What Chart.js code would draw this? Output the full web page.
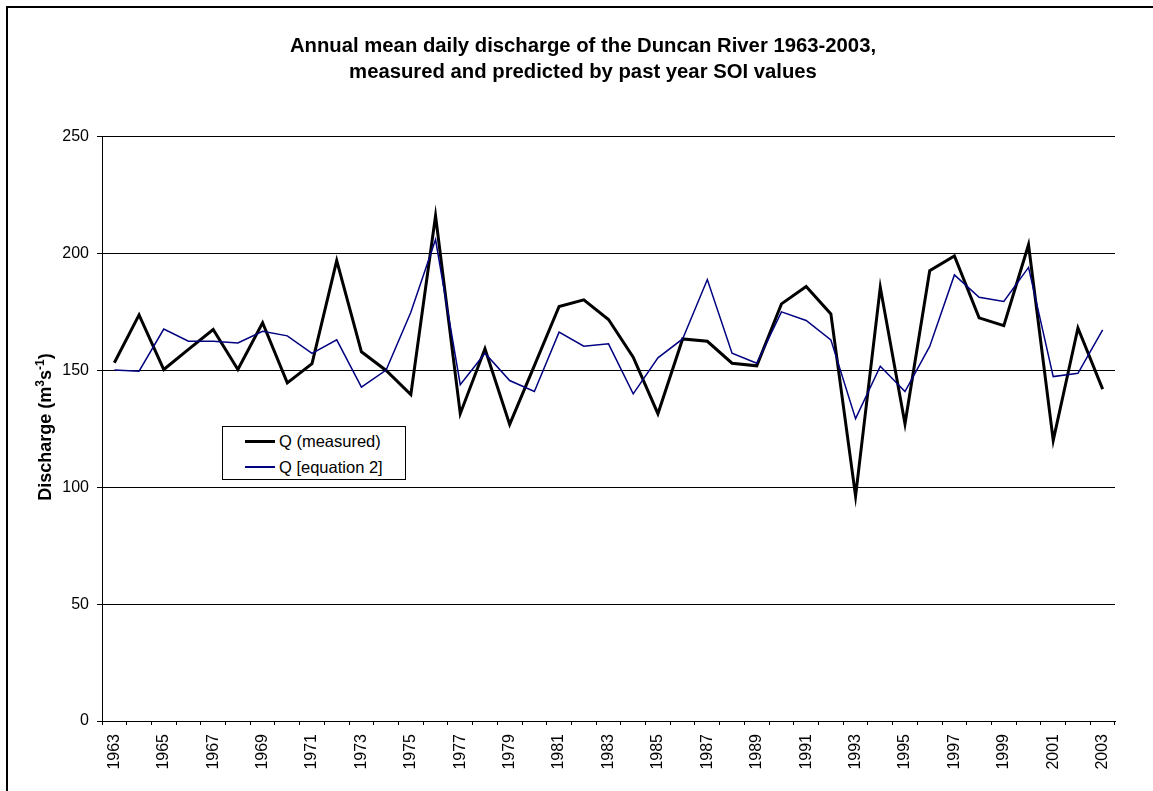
<!DOCTYPE html>
<html>
<head>
<meta charset="utf-8">
<script src="https://cdn.jsdelivr.net/npm/chart.js@4/dist/chart.umd.min.js"></script>
<style>
  body { margin: 0; background: #fff; overflow: hidden; }
  #wrap { position: relative; width: 1153px; height: 791px; overflow: hidden; font-family: "Liberation Sans", Arial, sans-serif; }
  #frame { position: absolute; left: 6px; top: 6px; width: 1200px; height: 900px; border: 2px solid #000; }
  #c { position: absolute; left: 0; top: 0; }
  #legend { position: absolute; left: 222px; top: 426px; width: 182px; height: 52px; border: 1px solid #000; background: #fff; }
  #legend .row { position: absolute; left: 0; height: 20px; }
  #legend .swatch { position: absolute; left: 22px; width: 30px; }
  #legend .txt { position: absolute; left: 56px; top: 0; font-size: 16.5px; line-height: 20px; white-space: nowrap; color: #000; }
</style>
</head>
<body>
<div id="wrap">
  <div id="frame"></div>
  <canvas id="c" width="1153" height="791"></canvas>
  <div id="legend"></div>
</div>
<script>
// data --------------------------------------------------------------

const years = [];
for (let y = 1963; y <= 2003; y++) years.push(String(y));

const measured = [
  153.3, 173.8, 150.4, 159.0, 167.5, 150.4, 170.4, 144.7, 152.9, 197.0,
  158.0, 150.0, 139.7, 216.2, 131.5, 159.3, 126.9, 152.1, 177.4, 180.2,
  171.8, 155.7, 131.5, 163.5, 162.5, 153.1, 152.0, 178.5, 185.9, 174.2,
  96.2, 185.6, 127.2, 192.7, 199.0, 172.5, 169.2, 203.8, 120.1, 168.2,
  142.0
];

const equation2 = [
  150.2, 149.7, 167.7, 162.5, 162.5, 161.8, 166.8, 164.8, 157.3, 163.1,
  142.9, 150.2, 174.9, 206.0, 143.9, 157.4, 145.7, 141.0, 166.4, 160.4,
  161.4, 140.0, 155.4, 163.5, 188.9, 157.4, 153.1, 175.1, 171.4, 163.1,
  129.4, 151.8, 141.0, 160.3, 190.9, 181.3, 179.5, 194.1, 147.4, 148.8,
  167.4
];

const seriesNames = ['Q (measured)', 'Q [equation 2]'];
const titleLines = [
  'Annual mean daily discharge of the Duncan River 1963-2003,',
  'measured and predicted by past year SOI values'
];
// y title in pieces: [text, superscript?]
const yTitleParts = [['Discharge (m', false], ['3', true], ['s', false], ['-1', true], [')', false]];

// chart ---------------------------------------------------------------

const FONT = '"Liberation Sans", Arial, sans-serif';
Chart.defaults.font.family = FONT;
Chart.defaults.color = '#000';

// rotated axis title with real superscripts
const yTitlePlugin = {
  id: 'yTitle',
  afterDraw(chart) {
    const ctx = chart.ctx;
    const big = 'bold 18px ' + FONT;
    const small = 'bold 12px ' + FONT;
    let total = 0;
    yTitleParts.forEach(([t, sup]) => {
      ctx.font = sup ? small : big;
      total += ctx.measureText(t).width;
    });
    ctx.save();
    ctx.translate(51, 427);
    ctx.rotate(-Math.PI / 2);
    ctx.fillStyle = '#000';
    ctx.textBaseline = 'alphabetic';
    ctx.textAlign = 'left';
    let x = -total / 2;
    yTitleParts.forEach(([t, sup]) => {
      ctx.font = sup ? small : big;
      ctx.fillText(t, x, sup ? -7 : 0);
      x += ctx.measureText(t).width;
    });
    ctx.restore();
  }
};

const data = {
  labels: years,
  datasets: [{
    label: seriesNames[0],
    data: measured,
    borderColor: '#000000',
    borderWidth: 3,
    pointRadius: 0,
    tension: 0,
    borderJoinStyle: 'miter',
    order: 1
  }, {
    label: seriesNames[1],
    data: equation2,
    borderColor: '#000080',
    borderWidth: 1.5,
    pointRadius: 0,
    tension: 0,
    borderJoinStyle: 'miter',
    order: 0
  }]
};

const config = {
  type: 'line',
  data,
  plugins: [yTitlePlugin],
  options: {
    responsive: false,
    animation: false,
    layout: { padding: { left: 51, right: 38, top: 0, bottom: 0 } },
    plugins: {
      legend: { display: false },
      tooltip: { enabled: false },
      title: {
        display: true,
        text: titleLines,
        color: '#000',
        font: { size: 20.3, weight: 'bold', lineHeight: 1.3 },
        padding: { top: 33, bottom: 51 }
      }
    },
    scales: {
      x: {
        type: 'category',
        offset: true,
        grid: {
          offset: true,
          drawOnChartArea: false,
          drawTicks: true,
          tickLength: 4,
          color: '#000'
        },
        border: { color: '#000', width: 1 },
        ticks: {
          autoSkip: false,
          maxRotation: 90,
          minRotation: 90,
          padding: 9,
          font: { size: 16 },
          callback: function (val, i) { return i % 2 === 0 ? years[i] : ''; }
        },
        afterFit: (scale) => { scale.height = 70; }
      },
      y: {
        min: 0,
        max: 250,
        ticks: { stepSize: 50, padding: 8, font: { size: 16 } },
        grid: { color: '#000', lineWidth: 1, tickLength: 5 },
        border: { color: '#000', width: 1 },
        afterFit: (scale) => { scale.width = 51; }
      }
    }
  }
};

const chart = new Chart(document.getElementById('c'), config);

// legend box inside the plot, like the original
const legend = document.getElementById('legend');
data.datasets.forEach((ds, i) => {
  const row = document.createElement('div');
  row.className = 'row';
  row.style.top = (4 + i * 26) + 'px';
  row.style.width = '100%';
  const sw = document.createElement('div');
  sw.className = 'swatch';
  sw.style.top = (10 - ds.borderWidth / 2) + 'px';
  sw.style.height = ds.borderWidth + 'px';
  sw.style.background = ds.borderColor;
  const tx = document.createElement('div');
  tx.className = 'txt';
  tx.textContent = ds.label;
  row.appendChild(sw);
  row.appendChild(tx);
  legend.appendChild(row);
});
</script>
</body>
</html>
